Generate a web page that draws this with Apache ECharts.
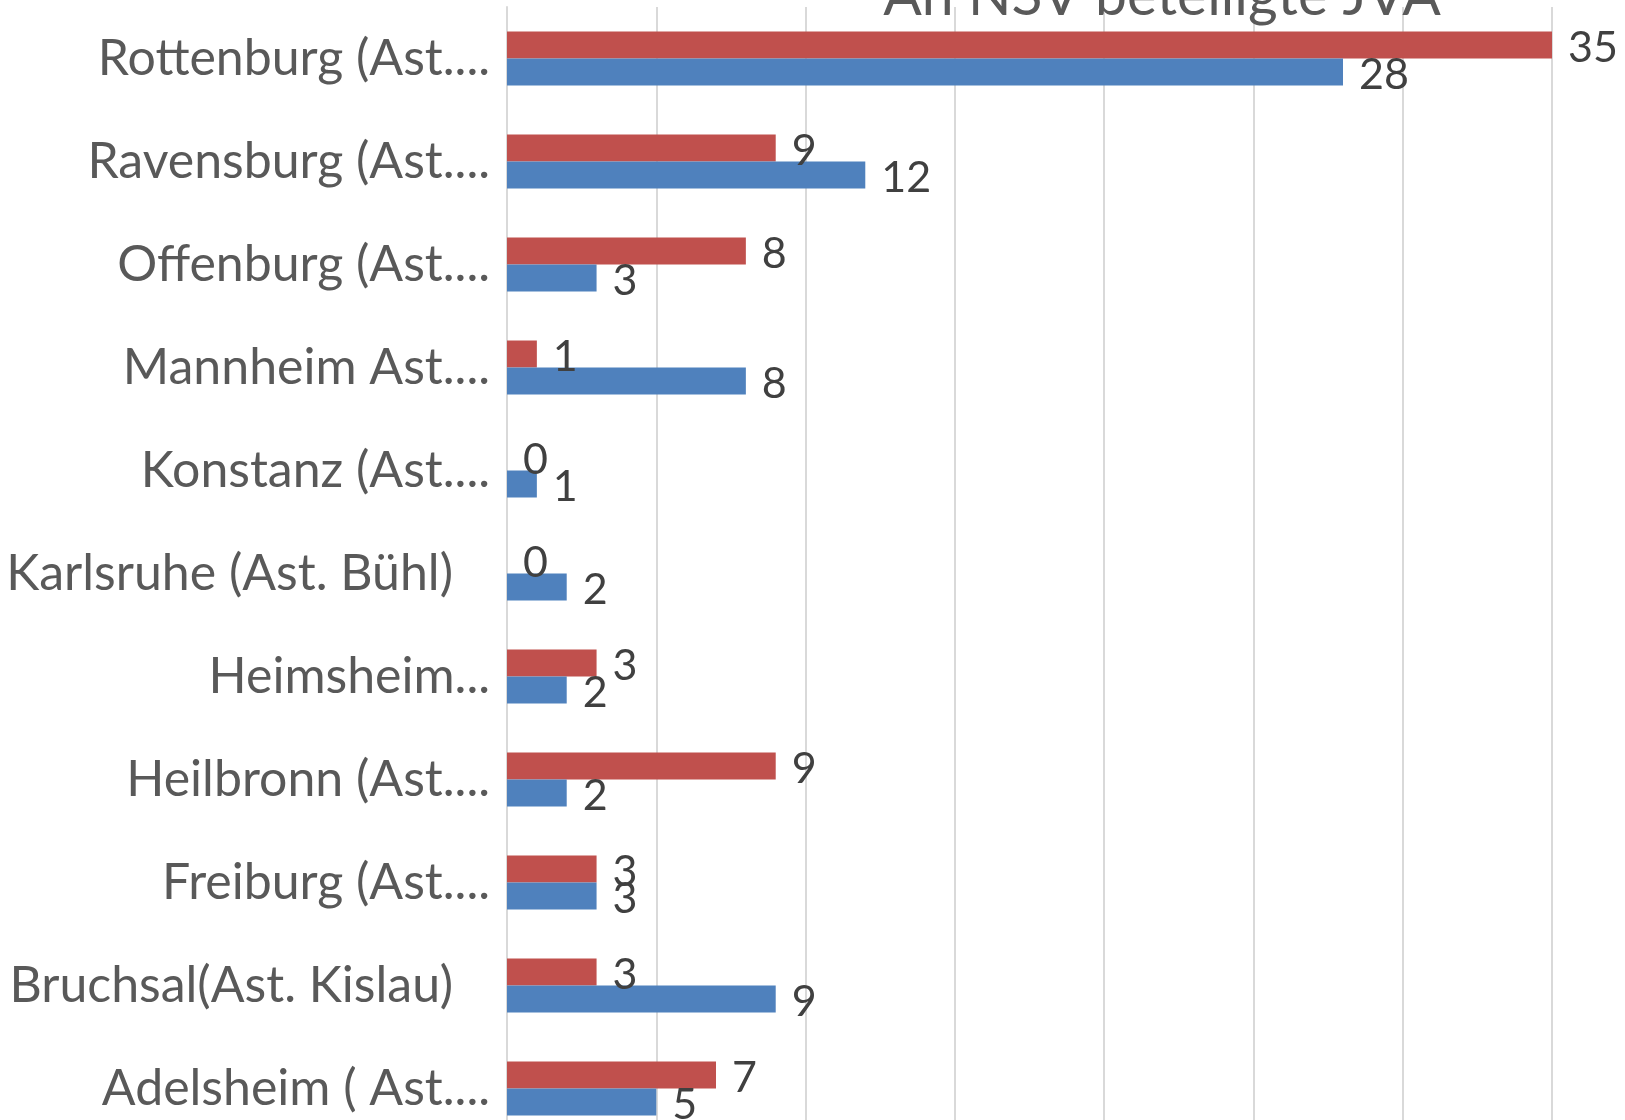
<!DOCTYPE html>
<html>
<head>
<meta charset="utf-8">
<script src="https://cdn.jsdelivr.net/npm/echarts@6/dist/echarts.min.js"></script>
<style>
html,body{margin:0;padding:0;background:#fff;}
#c{width:1625px;height:1120px;}
</style>
</head>
<body>
<div id="c"></div>
<script>
// Categories listed bottom to top (as on the value axis start)
var categories = [
  "Adelsheim ( Ast....",
  "Bruchsal(Ast. Kislau)",
  "Freiburg (Ast....",
  "Heilbronn (Ast....",
  "Heimsheim...",
  "Karlsruhe (Ast. Bühl)",
  "Konstanz (Ast....",
  "Mannheim Ast....",
  "Offenburg (Ast....",
  "Ravensburg (Ast....",
  "Rottenburg (Ast...."
];
var redValues  = [7, 3, 3, 9, 3, 0, 0, 1, 8, 9, 35];
var blueValues = [5, 9, 3, 2, 2, 2, 1, 8, 3, 12, 28];
var titleText = "An NSV beteiligte JVA";

var FONT = "Lato";
var chart = echarts.init(document.getElementById('c'), null, {renderer: 'canvas'});

var labelCfg = {
  show: true,
  position: 'right',
  distance: 16,
  offset: [0, 3],
  color: '#404040',
  fontFamily: FONT,
  fontSize: 43
};

chart.setOption({
  animation: false,
  backgroundColor: '#ffffff',
  graphic: [{
    type: 'text',
    x: 1162,
    y: 25,
    style: {
      text: titleText,
      x: 0,
      y: 0,
      textAlign: 'center',
      textVerticalAlign: 'bottom',
      fill: '#595959',
      fontFamily: FONT,
      fontSize: 57
    },
    z: 10
  }],
  grid: {
    left: 507,
    right: 73,
    top: 7,
    height: 1133,
    outerBoundsMode: 'none',
    containLabel: false
  },
  xAxis: {
    type: 'value',
    min: 0,
    max: 35,
    interval: 5,
    axisLabel: {show: false},
    axisLine: {show: false},
    axisTick: {show: false},
    splitLine: {show: true, lineStyle: {color: '#d9d9d9', width: 2}}
  },
  yAxis: {
    type: 'category',
    data: categories,
    axisTick: {show: false},
    axisLine: {show: true, lineStyle: {color: '#d9d9d9', width: 2}},
    axisLabel: {
      margin: 17,
      color: '#595959',
      fontFamily: FONT,
      fontSize: 50,
      formatter: function (v) {
        if (v.slice(-1) !== '.') return '{full|' + v + '}';
        return v;
      },
      rich: {
        full: {
          color: '#595959',
          fontFamily: FONT,
          fontSize: 50,
          padding: [0, 37, 0, 0]
        }
      }
    }
  },
  series: [
    {
      name: 'red',
      type: 'bar',
      data: redValues,
      barWidth: 27,
      barGap: '0%',
      itemStyle: {color: '#C0504D'},
      label: labelCfg
    },
    {
      name: 'blue',
      type: 'bar',
      data: blueValues,
      barWidth: 27,
      barGap: '0%',
      itemStyle: {color: '#4F81BD'},
      label: labelCfg
    }
  ]
});
</script>
</body>
</html>
